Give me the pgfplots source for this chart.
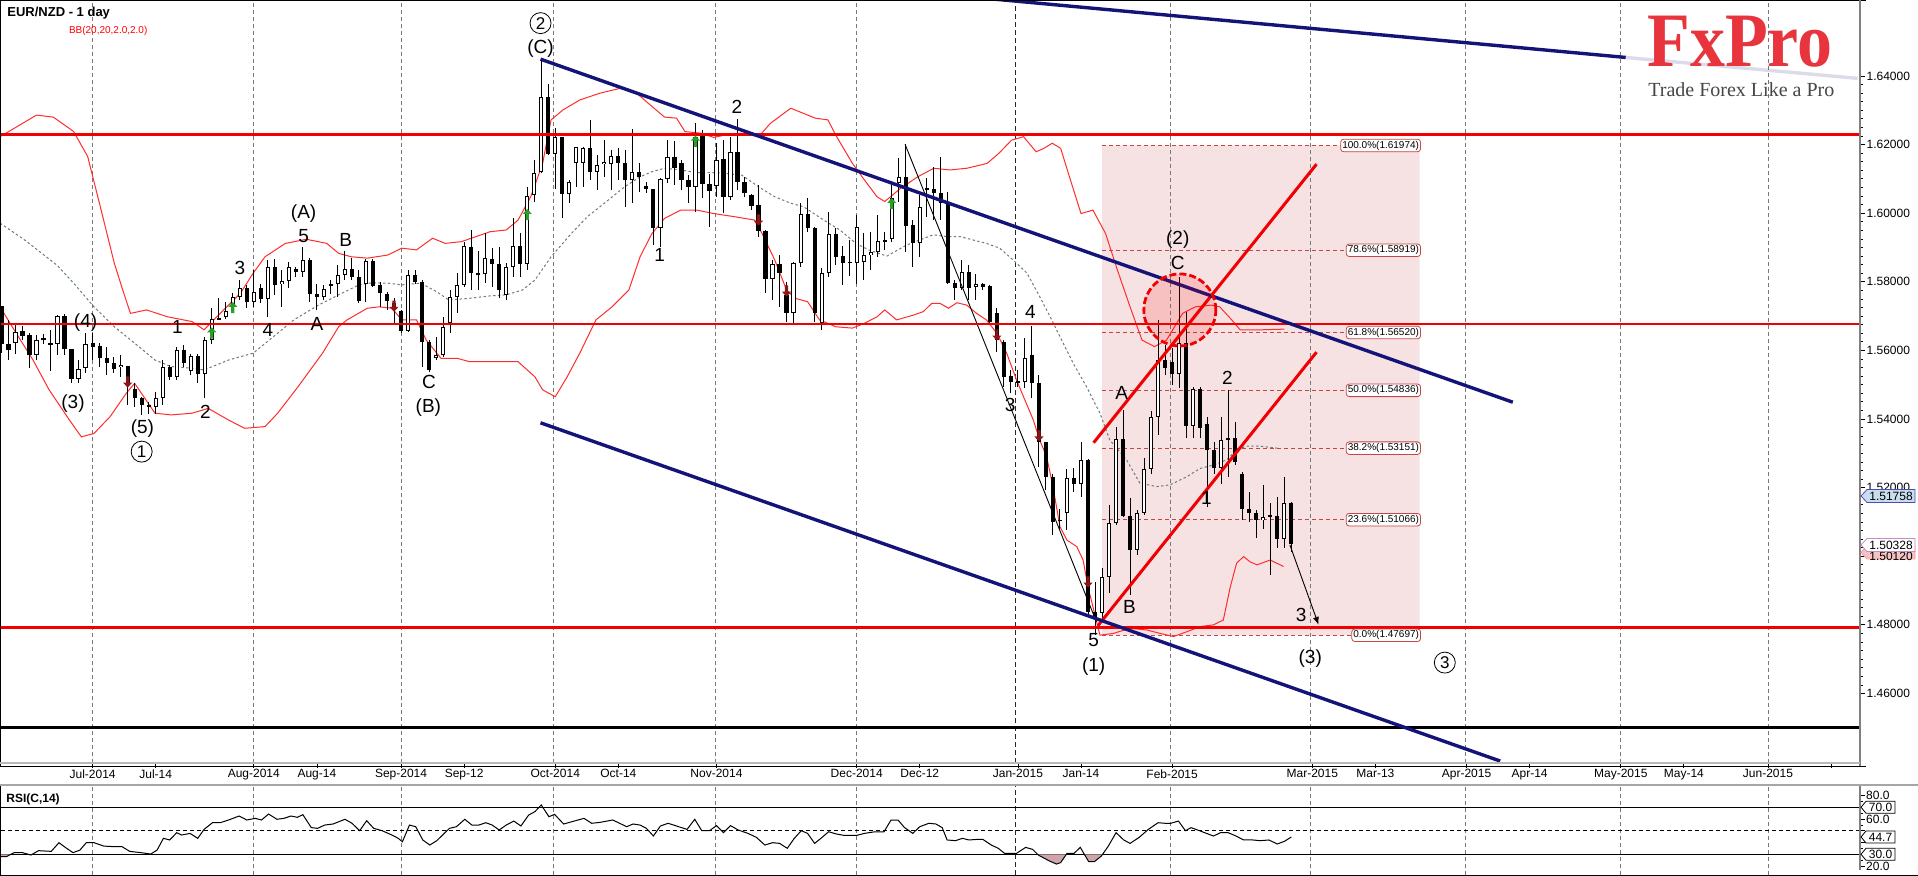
\documentclass[border=0pt]{standalone}
\usepackage{pgfplots}
\pgfplotsset{compat=1.18}
\usepackage{pgfplotstable}
\usepackage{fontspec}
\setmainfont{Liberation Sans}
\newfontfamily\logofont{Liberation Serif}
\usetikzlibrary{arrows.meta}
\pgfplotsset{/pgf/number format/assume math mode=true}

\definecolor{navyline}{RGB}{20,20,120}
\definecolor{hred}{RGB}{240,0,0}
\definecolor{bbred}{RGB}{255,45,45}
\definecolor{bbmid}{RGB}{105,125,125}
\definecolor{fibpink}{RGB}{246,226,227}
\definecolor{fibline}{RGB}{195,70,70}
\definecolor{upgreen}{RGB}{40,160,40}
\definecolor{dnred}{RGB}{140,20,20}
\definecolor{rsifill}{RGB}{205,165,170}
\definecolor{gridc}{RGB}{120,120,120}
\definecolor{logored}{RGB}{232,52,60}
\definecolor{tagblue}{RGB}{200,222,238}
\definecolor{tagpink}{RGB}{244,196,196}

\newcommand{\wf}{\fontsize{9.5}{11}\selectfont}
\newcommand{\tf}{\fontsize{6}{7}\selectfont}
\tikzset{circ/.style={circle, draw, line width=0.4pt, inner sep=0pt, minimum size=10.5pt, font=\fontsize{8.5}{9}\selectfont},
  fibbox/.style={draw=fibline, fill=white, rounded corners=1.5pt, inner sep=0.8pt, anchor=east, font=\fontsize{5}{6}\selectfont, line width=0.4pt}}

\pgfdeclareplotmark{uparr}{%
 \pgfpathmoveto{\pgfqpoint{0pt}{2.8pt}}%
 \pgfpathlineto{\pgfqpoint{2.3pt}{0.3pt}}%
 \pgfpathlineto{\pgfqpoint{0.8pt}{0.3pt}}%
 \pgfpathlineto{\pgfqpoint{0.8pt}{-2.8pt}}%
 \pgfpathlineto{\pgfqpoint{-0.8pt}{-2.8pt}}%
 \pgfpathlineto{\pgfqpoint{-0.8pt}{0.3pt}}%
 \pgfpathlineto{\pgfqpoint{-2.3pt}{0.3pt}}%
 \pgfpathclose\pgfusepathqfill}
\pgfdeclareplotmark{dnarr}{%
 \pgfpathmoveto{\pgfqpoint{0pt}{-2.8pt}}%
 \pgfpathlineto{\pgfqpoint{2.3pt}{-0.3pt}}%
 \pgfpathlineto{\pgfqpoint{0.8pt}{-0.3pt}}%
 \pgfpathlineto{\pgfqpoint{0.8pt}{2.8pt}}%
 \pgfpathlineto{\pgfqpoint{-0.8pt}{2.8pt}}%
 \pgfpathlineto{\pgfqpoint{-0.8pt}{-0.3pt}}%
 \pgfpathlineto{\pgfqpoint{-2.3pt}{-0.3pt}}%
 \pgfpathclose\pgfusepathqfill}

\pgfplotstableread{
i o h l c
-13 1.5729 1.5729 1.5593 1.5620
-12 1.5620 1.5688 1.5572 1.5601
-11 1.5622 1.5679 1.5591 1.5654
-10 1.5656 1.5671 1.5630 1.5643
-9 1.5644 1.5650 1.5550 1.5588
-8 1.5587 1.5645 1.5572 1.5630
-7 1.5633 1.5647 1.5620 1.5635
-6 1.5622 1.5659 1.5540 1.5615
-5 1.5620 1.5703 1.5586 1.5700
-4 1.5700 1.5706 1.5586 1.5603
-3 1.5603 1.5605 1.5504 1.5518
-2 1.5518 1.5572 1.5504 1.5547
-1 1.5550 1.5650 1.5533 1.5620
0 1.5622 1.5650 1.5572 1.5611
1 1.5613 1.5622 1.5552 1.5577
2 1.5579 1.5611 1.5528 1.5562
3 1.5562 1.5581 1.5533 1.5547
4 1.5552 1.5586 1.5523 1.5559
5 1.5554 1.5556 1.5441 1.5504
6 1.5487 1.5504 1.5436 1.5460
7 1.5460 1.5465 1.5411 1.5441
8 1.5441 1.5450 1.5416 1.5436
9 1.5436 1.5480 1.5416 1.5460
10 1.5460 1.5572 1.5441 1.5552
11 1.5552 1.5557 1.5513 1.5523
12 1.5523 1.5611 1.5513 1.5601
13 1.5601 1.5616 1.5552 1.5564
14 1.5541 1.5591 1.5528 1.5584
15 1.5584 1.5591 1.5504 1.5531
16 1.5531 1.5640 1.5460 1.5630
17 1.5630 1.5725 1.5620 1.5693
18 1.5690 1.5752 1.5688 1.5695
19 1.5698 1.5742 1.5693 1.5716
20 1.5727 1.5766 1.5708 1.5757
21 1.5757 1.5805 1.5747 1.5781
22 1.5781 1.5791 1.5723 1.5742
23 1.5742 1.5834 1.5727 1.5769
24 1.5781 1.5795 1.5737 1.5749
25 1.5749 1.5864 1.5698 1.5842
26 1.5842 1.5868 1.5761 1.5791
27 1.5793 1.5834 1.5727 1.5802
28 1.5802 1.5859 1.5781 1.5842
29 1.5837 1.5844 1.5813 1.5829
30 1.5828 1.5901 1.5815 1.5864
31 1.5864 1.5868 1.5740 1.5764
32 1.5764 1.5795 1.5718 1.5755
33 1.5755 1.5791 1.5747 1.5779
34 1.5791 1.5805 1.5766 1.5793
35 1.5793 1.5849 1.5757 1.5819
36 1.5819 1.5891 1.5805 1.5837
37 1.5837 1.5868 1.5805 1.5813
38 1.5813 1.5834 1.5737 1.5745
39 1.5795 1.5868 1.5742 1.5862
40 1.5862 1.5868 1.5786 1.5789
41 1.5791 1.5800 1.5728 1.5766
42 1.5766 1.5771 1.5718 1.5744
43 1.5737 1.5752 1.5679 1.5718
44 1.5715 1.5718 1.5650 1.5657
45 1.5657 1.5834 1.5655 1.5819
46 1.5819 1.5834 1.5795 1.5800
47 1.5800 1.5805 1.5553 1.5625
48 1.5625 1.5630 1.5538 1.5543
49 1.5579 1.5640 1.5572 1.5588
50 1.5588 1.5698 1.5582 1.5669
51 1.5679 1.5776 1.5650 1.5757
52 1.5757 1.5825 1.5708 1.5791
53 1.5791 1.5917 1.5786 1.5905
54 1.5902 1.5951 1.5776 1.5825
55 1.5825 1.5890 1.5776 1.5820
56 1.5823 1.5941 1.5796 1.5868
57 1.5868 1.5898 1.5786 1.5851
58 1.5851 1.5902 1.5752 1.5776
59 1.5762 1.5854 1.5747 1.5844
60 1.5844 1.5985 1.5815 1.5905
61 1.5905 1.5941 1.5815 1.5851
62 1.5851 1.6077 1.5835 1.6051
63 1.6053 1.6155 1.6033 1.6116
64 1.6121 1.6451 1.6116 1.6340
65 1.6340 1.6377 1.6170 1.6172
66 1.6172 1.6247 1.6072 1.6221
67 1.6221 1.6223 1.5985 1.6055
68 1.6055 1.6097 1.6029 1.6092
69 1.6145 1.6194 1.6077 1.6192
70 1.6145 1.6194 1.6077 1.6189
71 1.6189 1.6272 1.6097 1.6119
72 1.6119 1.6170 1.6068 1.6140
73 1.6142 1.6213 1.6106 1.6150
74 1.6142 1.6184 1.6068 1.6168
75 1.6168 1.6189 1.6097 1.6145
76 1.6145 1.6184 1.6019 1.6097
77 1.6097 1.6245 1.6029 1.6119
78 1.6119 1.6145 1.6063 1.6106
79 1.6080 1.6092 1.6058 1.6070
80 1.6070 1.6072 1.5907 1.5956
81 1.5956 1.6102 1.5902 1.6099
82 1.6099 1.6213 1.6087 1.6163
83 1.6163 1.6209 1.6082 1.6131
84 1.6145 1.6155 1.6068 1.6097
85 1.6097 1.6111 1.6029 1.6075
86 1.6075 1.6264 1.6004 1.6223
87 1.6228 1.6243 1.6043 1.6084
88 1.6085 1.6114 1.5959 1.6066
89 1.6079 1.6204 1.6048 1.6155
90 1.6157 1.6213 1.6000 1.6046
91 1.6046 1.6221 1.6038 1.6179
92 1.6179 1.6274 1.6068 1.6092
93 1.6092 1.6106 1.6048 1.6058
94 1.6053 1.6056 1.6009 1.6021
95 1.6024 1.6082 1.5931 1.5948
96 1.5948 1.5951 1.5766 1.5807
97 1.5807 1.5863 1.5747 1.5852
98 1.5852 1.5878 1.5727 1.5827
99 1.5761 1.5800 1.5684 1.5708
100 1.5708 1.5859 1.5681 1.5854
101 1.5854 1.6029 1.5844 1.5997
102 1.5997 1.6043 1.5946 1.5956
103 1.5956 1.5961 1.5684 1.5708
104 1.5679 1.5839 1.5659 1.5825
105 1.5825 1.6004 1.5815 1.5938
106 1.5938 1.5956 1.5849 1.5873
107 1.5875 1.5904 1.5791 1.5854
108 1.5856 1.5922 1.5817 1.5857
109 1.5856 1.5995 1.5795 1.5959
110 1.5857 1.5941 1.5805 1.5878
111 1.5878 1.5946 1.5834 1.5886
112 1.5886 1.5995 1.5873 1.5920
113 1.5920 1.5946 1.5893 1.5921
114 1.5925 1.6095 1.5915 1.6045
115 1.6089 1.6160 1.6034 1.6105
116 1.6105 1.6202 1.5886 1.5963
117 1.5965 1.5980 1.5844 1.5914
118 1.5914 1.6053 1.5873 1.6017
119 1.6070 1.6102 1.5990 1.6072
120 1.6070 1.6136 1.5980 1.6058
121 1.6058 1.6163 1.5980 1.6029
122 1.6034 1.6063 1.5795 1.5797
123 1.5798 1.5805 1.5747 1.5783
124 1.5783 1.5863 1.5776 1.5829
125 1.5829 1.5849 1.5747 1.5783
126 1.5786 1.5823 1.5747 1.5795
127 1.5795 1.5797 1.5776 1.5786
128 1.5788 1.5791 1.5679 1.5684
129 1.5708 1.5725 1.5596 1.5630
130 1.5625 1.5630 1.5494 1.5523
131 1.5525 1.5543 1.5475 1.5509
132 1.5509 1.5543 1.5494 1.5509
133 1.5509 1.5635 1.5489 1.5577
134 1.5588 1.5671 1.5460 1.5504
135 1.5504 1.5528 1.5261 1.5334
136 1.5334 1.5334 1.5193 1.5230
137 1.5230 1.5241 1.5062 1.5100
138 1.5102 1.5139 1.5076 1.5107
139 1.5127 1.5253 1.5076 1.5227
140 1.5227 1.5256 1.5188 1.5212
141 1.5212 1.5334 1.5173 1.5280
142 1.5280 1.5285 1.4833 1.4838
143 1.4838 1.4926 1.4770 1.4823
144 1.4835 1.4965 1.4814 1.4940
145 1.4940 1.5149 1.4892 1.5098
146 1.5098 1.5378 1.5091 1.5341
147 1.5341 1.5426 1.5115 1.5118
148 1.5118 1.5169 1.4887 1.5018
149 1.5018 1.5135 1.5003 1.5125
150 1.5125 1.5285 1.5120 1.5253
151 1.5253 1.5424 1.5241 1.5407
152 1.5407 1.5689 1.5353 1.5572
153 1.5572 1.5616 1.5528 1.5548
154 1.5565 1.5606 1.5499 1.5530
155 1.5530 1.5815 1.5492 1.5621
156 1.5621 1.5713 1.5344 1.5380
157 1.5380 1.5494 1.5344 1.5489
158 1.5489 1.5494 1.5344 1.5373
159 1.5387 1.5407 1.5144 1.5310
160 1.5310 1.5334 1.5241 1.5256
161 1.5256 1.5407 1.5212 1.5339
162 1.5339 1.5485 1.5232 1.5344
163 1.5344 1.5392 1.5266 1.5274
164 1.5239 1.5246 1.5105 1.5137
165 1.5137 1.5188 1.5100 1.5127
166 1.5127 1.5135 1.5052 1.5105
167 1.5105 1.5207 1.5081 1.5115
168 1.5118 1.5154 1.4945 1.5118
169 1.5117 1.5173 1.5023 1.5049
170 1.5049 1.5232 1.5023 1.5156
171 1.5156 1.5159 1.5013 1.5035
}\candles

\begin{document}
\begin{tikzpicture}
\useasboundingbox (0,0) rectangle (959pt,438pt);
\fill[white] (0,0) rectangle (959pt,438pt);

\begin{axis}[
  at={(0pt,438pt)}, anchor=north west,
  scale only axis, width=930pt, height=381.5pt,
  xmin=-13.21, xmax=252.13, ymin=1.43974, ymax=1.66215,
  axis line style={draw=none},
  xtick pos=left, ytick pos=right, yticklabel pos=right,
  tick align=outside, major tick length=2.6pt, minor tick length=1.5pt,
  tick style={black, line width=0.4pt},
  xtick={0,9,23,32,44,53,66,75,89,109,118,132,141,154,174,183,196,205,218,227,239,248},
  xticklabels={Jul-2014,Jul-14,Aug-2014,Aug-14,Sep-2014,Sep-12,Oct-2014,Oct-14,Nov-2014,Dec-2014,Dec-12,Jan-2015,Jan-14,Feb-2015,Mar-2015,Mar-13,Apr-2015,Apr-14,May-2015,May-14,Jun-2015,{}},
  ytick={1.46,1.48,1.50,1.52,1.54,1.56,1.58,1.60,1.62,1.64},
  yticklabels={1.46000,1.48000,{},1.52000,1.54000,1.56000,1.58000,1.60000,1.62000,1.64000},
  minor y tick num=7,
  scaled y ticks=false,
  yticklabel style={font=\tf, anchor=west, inner sep=0.5pt},
  xticklabel style={font=\tf, anchor=north, inner sep=0.5pt},
  clip=true,
]
% Fibonacci zone
\addplot[fill=fibpink, draw=none] coordinates {(144,1.47697) (189.3,1.47697) (189.3,1.61974) (144,1.61974) (144,1.47697)};
% month grid
\pgfplotsinvokeforeach{0,22.95,44.08,65.8,88.9,108.9,153.8,173.8,195.9,218,239}{
  \draw[gridc, line width=0.45pt, dash pattern=on 2pt off 1.5pt] (axis cs:#1,1.43974) -- (axis cs:#1,1.66215);}
\draw[black!85, line width=0.6pt, dash pattern=on 2.5pt off 1.5pt] (axis cs:131.7,1.43974) -- (axis cs:131.7,1.66215);
% fib levels
\pgfplotsinvokeforeach{1.61974,1.58919,1.56520,1.54836,1.53151,1.51066,1.47697}{
  \addplot[fibline, line width=0.5pt, dash pattern=on 2pt off 1.5pt] coordinates {(144,#1) (189.5,#1)};}
% Bollinger bands
\addplot[bbred, line width=0.5pt] coordinates {(-13.2,1.6223) (-8.0,1.6286) (-5.6,1.6280) (-2.7,1.6238) (-0.7,1.6165) (1.1,1.6019) (3.1,1.5854) (4.3,1.5776) (5.4,1.5708) (7.7,1.5718) (10.7,1.5698) (14.2,1.5684) (15.9,1.5660) (18.2,1.5708) (21.1,1.5767) (22.9,1.5825) (24.6,1.5873) (27.5,1.5912) (30.5,1.5924) (33.4,1.5912) (35.1,1.5883) (36.9,1.5873) (39.2,1.5869) (42.1,1.5878) (44.1,1.5898) (46.2,1.5893) (48.5,1.5927) (50.3,1.5912) (52.6,1.5917) (56.7,1.5946) (59.0,1.5951) (60.7,1.5980) (62.5,1.6048) (64.2,1.6145) (65.4,1.6272) (67.1,1.6301) (69.5,1.6330) (72.4,1.6350) (75.3,1.6364) (77.6,1.6350) (79.8,1.6311) (81.6,1.6280) (83.3,1.6277) (84.5,1.6238) (86.8,1.6233) (88.6,1.6221) (90.3,1.6228) (92.6,1.6233) (95.0,1.6223) (96.7,1.6262) (99.6,1.6306) (101.4,1.6291) (103.1,1.6277) (104.9,1.6272) (106.0,1.6228) (108.4,1.6145) (110.1,1.6097) (111.9,1.6048) (113.0,1.6034) (115.3,1.6073) (117.7,1.6106) (120.0,1.6131) (122.3,1.6126) (124.7,1.6131) (127.6,1.6145) (129.3,1.6175) (131.1,1.6213) (132.8,1.6223) (134.6,1.6179) (135.7,1.6189) (136.9,1.6204) (138.1,1.6189) (139.2,1.6116) (141.0,1.5999) (142.7,1.6009) (144.5,1.5941) (146.2,1.5834) (148.0,1.5727) (149.7,1.5630) (151.5,1.5611) (153.2,1.5630) (155.5,1.5708) (157.3,1.5727) (159.6,1.5732) (160.8,1.5727) (162.5,1.5689) (163.7,1.5660) (166.6,1.5660) (170.0,1.5662)};
\addplot[bbred, line width=0.5pt] coordinates {(-13.2,1.5727) (-10.9,1.5650) (-8.5,1.5572) (-6.2,1.5485) (-3.3,1.5397) (-1.6,1.5348) (0.2,1.5358) (2.5,1.5407) (4.8,1.5475) (6.0,1.5504) (8.9,1.5417) (11.2,1.5412) (14.2,1.5417) (16.5,1.5431) (19.4,1.5397) (21.7,1.5373) (24.6,1.5378) (26.4,1.5417) (29.3,1.5494) (32.8,1.5592) (35.1,1.5669) (36.3,1.5689) (39.2,1.5723) (40.9,1.5727) (42.7,1.5723) (44.1,1.5689) (46.2,1.5689) (47.6,1.5630) (49.7,1.5577) (52.0,1.5577) (53.8,1.5567) (56.7,1.5567) (60.7,1.5567) (63.1,1.5523) (64.2,1.5485) (66.0,1.5465) (67.7,1.5523) (69.5,1.5592) (71.8,1.5689) (74.1,1.5727) (76.5,1.5776) (78.1,1.5873) (79.8,1.5941) (81.6,1.5985) (83.9,1.6009) (86.2,1.6009) (88.6,1.5999) (91.5,1.5990) (94.4,1.5980) (95.5,1.5941) (97.3,1.5864) (99.0,1.5776) (100.2,1.5752) (102.0,1.5742) (103.7,1.5689) (106.0,1.5669) (108.4,1.5665) (110.1,1.5679) (111.9,1.5698) (113.0,1.5718) (114.7,1.5689) (117.1,1.5703) (118.5,1.5713) (119.7,1.5737) (120.9,1.5737) (122.1,1.5723) (123.3,1.5739) (124.7,1.5732) (126.1,1.5708) (127.5,1.5689) (129.0,1.5650) (130.4,1.5592) (131.8,1.5514) (132.8,1.5465) (134.2,1.5397) (135.1,1.5339) (136.1,1.5290) (137.0,1.5203) (138.0,1.5086) (139.0,1.5047) (140.4,1.5028) (141.3,1.4989) (142.0,1.4911) (142.7,1.4853) (143.7,1.4770) (145.6,1.4775) (148.0,1.4790) (150.4,1.4785) (152.3,1.4775) (154.2,1.4766) (156.1,1.4780) (158.0,1.4795) (159.9,1.4800) (161.3,1.4814) (162.3,1.4911) (163.2,1.4980) (164.2,1.4999) (165.1,1.4984) (166.1,1.4975) (168.0,1.4989) (169.9,1.4970)};
\addplot[bbmid, line width=0.5pt, dash pattern=on 1.2pt off 1.2pt] coordinates {(-13.2,1.5971) (-9.7,1.5922) (-5.1,1.5849) (-2.7,1.5796) (0.2,1.5727) (3.1,1.5669) (6.0,1.5621) (8.9,1.5572) (11.2,1.5553) (14.2,1.5548) (15.9,1.5543) (19.4,1.5572) (22.9,1.5592) (25.2,1.5630) (28.7,1.5689) (32.2,1.5732) (35.1,1.5762) (38.0,1.5791) (39.8,1.5797) (42.1,1.5796) (44.1,1.5791) (46.8,1.5796) (49.1,1.5771) (50.8,1.5747) (53.8,1.5752) (56.7,1.5759) (59.0,1.5762) (61.3,1.5776) (63.1,1.5805) (65.4,1.5873) (68.3,1.5941) (70.6,1.5990) (73.0,1.6029) (75.9,1.6077) (78.1,1.6106) (79.8,1.6121) (81.6,1.6131) (83.9,1.6126) (86.2,1.6118) (89.2,1.6118) (92.6,1.6111) (95.0,1.6077) (97.3,1.6048) (99.6,1.6029) (101.4,1.6019) (104.3,1.5980) (106.6,1.5951) (108.9,1.5912) (110.7,1.5893) (113.3,1.5875) (116.1,1.5907) (118.0,1.5922) (119.9,1.5937) (121.8,1.5932) (123.7,1.5932) (125.6,1.5922) (127.5,1.5912) (129.4,1.5898) (131.3,1.5864) (133.3,1.5825) (135.1,1.5757) (136.6,1.5698) (138.0,1.5640) (139.9,1.5562) (141.8,1.5494) (143.7,1.5417) (145.1,1.5339) (147.5,1.5281) (149.4,1.5213) (151.8,1.5203) (153.7,1.5208) (156.1,1.5232) (158.0,1.5256) (159.9,1.5266) (161.8,1.5281) (163.2,1.5310) (164.6,1.5321) (166.5,1.5321) (169.4,1.5314)};
% candles: wicks, bodies, hollow up-bodies
\addplot[draw=none, mark=none, error bars/.cd, y dir=both, y explicit, error mark=none,
  error bar style={draw=black, solid, line cap=butt, line width=0.5pt}]
  table[x=i, y expr={(\thisrow{h}+\thisrow{l})/2}, y error expr={(\thisrow{h}-\thisrow{l})/2}] {\candles};
\addplot[draw=none, mark=none, error bars/.cd, y dir=both, y explicit, error mark=none,
  error bar style={draw=black, solid, line cap=butt, line width=2.1pt}]
  table[x=i, y expr={(\thisrow{o}+\thisrow{c})/2}, y error expr={max(abs(\thisrow{c}-\thisrow{o})/2,0.00016)}] {\candles};
\addplot[draw=none, mark=none, error bars/.cd, y dir=both, y explicit, error mark=none,
  error bar style={draw=white, solid, line cap=butt, line width=1.1pt}]
  table[x=i, y expr={(\thisrow{o}+\thisrow{c})/2}, y error expr={max((\thisrow{c}-\thisrow{o})/2-0.00029,0)}] {\candles};
% signal arrows
\addplot[only marks, mark=uparr, mark options={fill=upgreen}, color=upgreen] coordinates {(17,1.5651) (20,1.5725) (62,1.5996) (86,1.6210) (114,1.6028)};
\addplot[only marks, mark=dnarr, mark options={fill=dnred}, color=dnred] coordinates {(5,1.5508) (43,1.5729) (95,1.5980) (99,1.5773) (129,1.5645) (135,1.5351) (142,1.4925)};
% wave lines
\addplot[black, line width=0.45pt] coordinates {(115.9,1.6201) (143.2,1.4809)};
\addplot[black, line width=0.45pt, -{Latex[length=4pt,width=3pt]}] coordinates {(170.8,1.5033) (174.9,1.4800)};
% horizontal levels
\addplot[hred, line width=1.35pt] coordinates {(-14,1.6230) (253,1.6230)};
\addplot[hred, line width=1.35pt] coordinates {(-14,1.5677) (253,1.5677)};
\addplot[hred, line width=1.35pt] coordinates {(-14,1.4793) (253,1.4793)};
\addplot[black, line width=1.5pt] coordinates {(-14,1.4502) (253,1.4502)};
% red channel
\addplot[hred, line width=1.5pt] coordinates {(142.8,1.5331) (174.6,1.6143)};
\addplot[hred, line width=1.5pt] coordinates {(143.4,1.4797) (174.6,1.5595)};
% dashed circle
\addplot[only marks, mark=*, mark size=18pt, mark options={draw=hred, dash pattern=on 3.5pt off 1.5pt, line width=1.4pt, fill=red, fill opacity=0.15}] coordinates {(155.1,1.5718)};
% blue channel
\addplot[navyline, line width=1.7pt] coordinates {(63.9,1.6449) (202.6,1.5449)};
\addplot[navyline, line width=1.7pt] coordinates {(63.9,1.5389) (200.8,1.4403)};
\addplot[navyline, line width=1.7pt] coordinates {(127,1.6627) (218.7,1.6454)};
\addplot[navyline, opacity=0.15, line width=1.7pt] coordinates {(218.7,1.6454) (251.8,1.6393)};
% wave labels
\node[font=\wf] at (axis cs:-1.0,1.5680) {(4)};
\node[font=\wf] at (axis cs:-2.8,1.5446) {(3)};
\node[font=\wf] at (axis cs:7.1,1.5373) {(5)};
\node[circ] at (axis cs:7.0,1.5305) {1};
\node[font=\wf] at (axis cs:12.1,1.5667) {1};
\node[font=\wf] at (axis cs:16.1,1.5421) {2};
\node[font=\wf] at (axis cs:21.0,1.5841) {3};
\node[font=\wf] at (axis cs:25.0,1.5660) {4};
\node[font=\wf] at (axis cs:30.1,1.5934) {5};
\node[font=\wf] at (axis cs:30.1,1.5999) {(A)};
\node[font=\wf] at (axis cs:32.0,1.5676) {A};
\node[font=\wf] at (axis cs:36.1,1.5922) {B};
\node[font=\wf] at (axis cs:48.0,1.5507) {C};
\node[font=\wf] at (axis cs:47.9,1.5434) {(B)};
\node[circ] at (axis cs:63.9,1.6554) {2};
\node[font=\wf] at (axis cs:63.9,1.6479) {(C)};
\node[font=\wf] at (axis cs:80.9,1.5878) {1};
\node[font=\wf] at (axis cs:91.9,1.6311) {2};
\node[font=\wf] at (axis cs:130.9,1.5441) {3};
\node[font=\wf] at (axis cs:133.8,1.5713) {4};
\node[font=\wf] at (axis cs:142.8,1.4756) {5};
\node[font=\wf] at (axis cs:142.8,1.4678) {(1)};
\node[font=\wf] at (axis cs:146.8,1.5475) {A};
\node[font=\wf] at (axis cs:147.9,1.4853) {B};
\node[font=\wf] at (axis cs:154.8,1.5922) {(2)};
\node[font=\wf] at (axis cs:154.8,1.5856) {C};
\node[font=\wf] at (axis cs:158.9,1.5169) {1};
\node[font=\wf] at (axis cs:161.9,1.5519) {2};
\node[font=\wf] at (axis cs:172.4,1.4829) {3};
\node[font=\wf] at (axis cs:173.7,1.4703) {(3)};
\node[circ] at (axis cs:192.9,1.4690) {3};
% fib labels
\node[fibbox] at (axis cs:189.5,1.61974) {100.0\%(1.61974)};
\node[fibbox] at (axis cs:189.5,1.58919) {78.6\%(1.58919)};
\node[fibbox] at (axis cs:189.5,1.56520) {61.8\%(1.56520)};
\node[fibbox] at (axis cs:189.5,1.54836) {50.0\%(1.54836)};
\node[fibbox] at (axis cs:189.5,1.53151) {38.2\%(1.53151)};
\node[fibbox] at (axis cs:189.5,1.51066) {23.6\%(1.51066)};
\node[fibbox] at (axis cs:189.5,1.47697) {0.0\%(1.47697)};
\end{axis}

\begin{axis}[
  at={(0pt,45.5pt)}, anchor=north west,
  scale only axis, width=930pt, height=45pt,
  xmin=-13.21, xmax=252.13, ymin=12.4, ymax=89,
  axis line style={draw=none}, xtick=\empty,
  ytick={20,30,40,50,60,70,80}, minor y tick num=1,
  yticklabels={20.0,{},{},{},60.0,{},80.0},
  ytick pos=right, yticklabel pos=right, tick align=outside,
  major tick length=2.4pt, minor tick length=1.4pt, tick style={black, line width=0.4pt},
  yticklabel style={font=\tf, anchor=west, inner sep=0.5pt},
  clip=true,
]
\pgfplotsinvokeforeach{0,22.95,44.08,65.8,88.9,108.9,153.8,173.8,195.9,218,239}{
  \draw[gridc, line width=0.45pt, dash pattern=on 2pt off 1.5pt] (axis cs:#1,12.4) -- (axis cs:#1,89);}
\draw[black!85, line width=0.6pt, dash pattern=on 2.5pt off 1.5pt] (axis cs:131.7,12.4) -- (axis cs:131.7,89);
\addplot[black, line width=0.5pt] coordinates {(-14,70) (253,70)};
\addplot[black, line width=0.5pt] coordinates {(-14,30) (253,30)};
\addplot[black, line width=0.5pt, dash pattern=on 2pt off 1.5pt] coordinates {(-14,50) (253,50)};
\addplot[fill=rsifill, draw=none] coordinates {(-13.3,30) (-13.3,28.0) (-12.3,28.0) (-11.6,30) (-13.3,30)};
\addplot[fill=rsifill, draw=none] coordinates {(-9.2,30) (-8.8,29.4) (-8.5,30) (-9.2,30)};
\addplot[fill=rsifill, draw=none] coordinates {(134.8,30) (134.9,29.4) (136.4,24.6) (137.5,21.7) (138.1,22.9) (138.9,30) (134.8,30)};
\addplot[fill=rsifill, draw=none] coordinates {(141.5,30) (142.1,23.7) (142.9,23.7) (143.9,28.5) (144.1,30) (141.5,30)};
\addplot[black, line width=0.5pt] coordinates {(-13.2,28.0) (-12.3,28.0) (-11.2,31.4) (-10.0,31.4) (-8.8,29.4) (-7.7,33.1) (-5.9,32.5) (-4.8,39.9) (-3.9,35.9) (-2.8,31.4) (-1.8,33.6) (-0.9,39.9) (0.2,39.9) (1.6,37.0) (3.1,36.5) (4.2,36.5) (5.3,32.5) (6.9,31.4) (8.3,30.2) (9.2,33.6) (10.1,43.6) (11.0,42.2) (12.0,48.4) (12.7,46.4) (13.9,47.8) (15.0,43.6) (15.9,51.2) (17.1,56.9) (18.2,56.9) (19.4,59.2) (20.9,62.6) (22.0,59.2) (23.2,60.6) (24.1,59.2) (25.1,64.3) (26.3,59.8) (27.3,60.6) (28.3,62.6) (29.2,61.5) (30.0,63.7) (31.2,52.7) (32.1,52.1) (33.1,54.9) (34.3,55.8) (36.0,59.8) (37.0,56.4) (38.1,50.1) (39.1,58.6) (40.1,52.1) (41.3,50.1) (42.7,46.4) (43.6,43.6) (44.2,40.7) (45.2,54.9) (46.1,53.5) (47.1,42.2) (48.1,37.9) (49.1,41.6) (50.9,52.1) (51.9,53.5) (53.1,59.8) (54.1,54.9) (55.1,54.9) (56.1,56.9) (57.0,54.9) (58.0,50.7) (59.0,54.9) (60.1,58.3) (61.1,54.1) (62.2,63.4) (63.1,66.3) (64.0,72.0) (65.1,62.0) (65.9,64.0) (67.2,55.8) (68.4,57.8) (70.1,60.6) (71.2,56.4) (72.4,57.2) (74.2,59.2) (76.2,53.5) (77.1,55.8) (78.1,54.9) (79.0,52.1) (80.0,45.6) (81.0,54.1) (82.1,56.4) (83.3,54.1) (84.8,51.2) (85.9,59.8) (86.9,50.1) (88.0,50.1) (89.0,54.4) (90.0,48.4) (91.0,54.4) (92.1,50.7) (93.5,47.8) (94.7,44.4) (95.9,37.9) (97.0,39.9) (98.0,39.3) (99.1,35.1) (100.1,43.6) (101.1,50.1) (102.0,47.8) (103.0,39.3) (104.0,44.1) (105.0,49.2) (106.1,47.3) (107.2,46.1) (109.0,46.1) (110.1,47.8) (111.6,49.2) (112.9,49.2) (113.9,59.2) (114.9,59.2) (115.8,52.9) (117.0,47.8) (118.0,53.5) (119.3,56.4) (120.3,55.8) (121.2,52.7) (121.9,42.2) (123.1,41.6) (124.1,43.6) (125.0,42.2) (126.2,42.7) (127.0,42.7) (128.2,37.9) (129.2,35.1) (130.1,30.8) (131.8,30.8) (133.1,35.9) (134.1,34.2) (134.9,29.4) (136.4,24.6) (137.5,21.7) (138.1,22.9) (139.0,30.8) (140.0,30.8) (140.9,35.9) (142.1,23.7) (142.9,23.7) (143.9,28.5) (144.9,37.0) (146.0,48.4) (147.1,42.2) (148.0,39.3) (149.3,44.4) (150.6,51.2) (152.0,56.9) (153.0,56.4) (153.8,56.4) (154.9,58.3) (155.9,50.1) (156.7,52.7) (157.9,50.1) (158.9,47.8) (159.9,45.6) (160.9,48.4) (162.0,48.4) (163.1,45.6) (164.2,42.2) (165.5,42.2) (166.6,41.6) (167.8,42.2) (169.0,38.8) (170.0,41.0) (171.0,44.7)};
\end{axis}

\begin{scope}[shift={(0pt,438pt)}, x=0.5pt, y=-0.5pt]
% frame lines
\draw[black, line width=0.6pt] (0,0.5) -- (1866,0.5);
\draw[black, line width=0.8pt] (0.5,0) -- (0.5,767);
\draw[gray, line width=0.6pt] (1860,0) -- (1860,767);
\draw[gray!55, line width=0.6pt] (0,763) -- (1860,763);
\draw[black, line width=0.5pt] (0,767) -- (1866,767);
\draw[gray!70, line width=1.2pt] (0,785) -- (1918,785);
\draw[black, line width=0.8pt] (0.5,786) -- (0.5,876);
\draw[black, line width=0.8pt] (0,875.5) -- (1918,875.5);
\draw[gray, line width=0.6pt] (1860,786) -- (1860,870);
% titles
\node[anchor=base west, inner sep=0, font=\fontsize{6.5}{7}\selectfont\bfseries] at (7,16.5) {EUR/NZD - 1 day};
\node[anchor=base west, inner sep=0, font=\fontsize{5}{6}\selectfont, text=red] at (68.6,33.5) {BB(20,20,2.0,2.0)};
\node[anchor=base west, inner sep=0, font=\fontsize{6}{7}\selectfont\bfseries] at (6,803) {RSI(C,14)};
% logo
\node[anchor=base west, inner sep=0, text depth=0pt, text=logored, font=\logofont\bfseries\fontsize{35}{37}\selectfont, yscale=1.1, transform shape] at (1647,67) {FxPro};
\node[anchor=base west, inner sep=0, text depth=0pt, text=black!72, font=\logofont\fontsize{10}{11}\selectfont] at (1648,97) {Trade Forex Like a Pro};
% price tags
\draw[fill=tagblue, draw=gray!60!blue, line width=0.4pt] (1861,496) -- (1867,489.5) -- (1915,489.5) -- (1915,502.5) -- (1867,502.5) -- cycle;
\node[font=\tf, inner sep=0] at (1891,496) {1.51758};
\draw[fill=tagpink, draw=red!40, line width=0.4pt] (1861,552.5) -- (1867,546) -- (1915,546) -- (1915,559) -- (1867,559) -- cycle;
\node[font=\tf, inner sep=0, anchor=north] at (1891,551.5) {1.50120};
\draw[fill=white, draw=violet!45, line width=0.4pt] (1861,545) -- (1867,538.5) -- (1915,538.5) -- (1915,551.5) -- (1867,551.5) -- cycle;
\node[font=\tf, inner sep=0] at (1891,545) {1.50328};
% RSI tags
\foreach \yy/\tt in {807.3/70.0, 837/44.7, 854.3/30.0}{
  \draw[fill=white, draw=black, line width=0.4pt] (1861,\yy) -- (1866,\yy-6) -- (1895,\yy-6) -- (1895,\yy+6) -- (1866,\yy+6) -- cycle;
  \node[font=\tf, inner sep=0] at (1880.5,\yy) {\tt};}
\end{scope}
\end{tikzpicture}
\end{document}
